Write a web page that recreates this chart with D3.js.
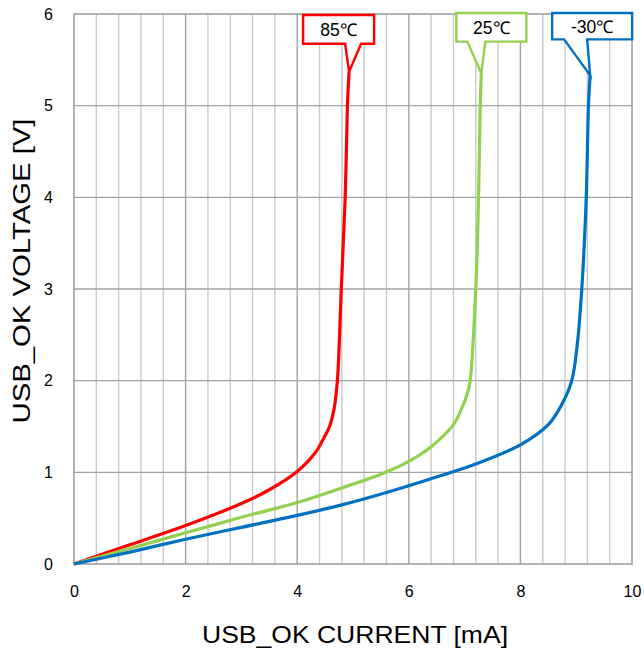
<!DOCTYPE html>
<html>
<head>
<meta charset="utf-8">
<script src="https://cdn.jsdelivr.net/npm/d3@7"></script>
<style>
  html, body { margin: 0; padding: 0; background: #fff; }
  svg { display: block; font-family: "Liberation Sans", Arial, sans-serif; }
</style>
</head>
<body>
<svg id="chart" width="644" height="653"></svg>
<script>
// USB_OK pin current vs voltage at three temperatures
const xTicks = [0, 2, 4, 6, 8, 10];
const yTicks = [0, 1, 2, 3, 4, 5, 6];

const temps = ["85℃", "25℃", "-30℃"];

const current85 = [0, 1, 2, 3, 3.5, 4.0, 4.32, 4.49, 4.58, 4.66, 4.72, 4.79, 4.86, 4.90, 4.93];
const voltage85 = [0, 0.21, 0.42, 0.66, 0.81, 1.01, 1.21, 1.39, 1.5, 1.69, 2.0, 3.0, 4.0, 5.0, 5.37];

const current25 = [0, 1, 2, 3, 4, 4.8, 5.5, 6.0, 6.4, 6.8, 6.95, 7.05, 7.1, 7.2, 7.25, 7.28, 7.3];
const voltage25 = [0, 0.17, 0.34, 0.51, 0.67, 0.83, 0.98, 1.12, 1.28, 1.52, 1.7, 1.86, 2.0, 3.0, 4.0, 5.0, 5.35];

const currentM30 = [0, 1, 2, 3, 4, 4.8, 5.6, 6.4, 7.2, 8.0, 8.5, 8.75, 8.92, 9.02, 9.1, 9.18, 9.22, 9.25];
const voltageM30 = [0, 0.13, 0.27, 0.40, 0.53, 0.645, 0.78, 0.93, 1.09, 1.30, 1.52, 1.75, 2.0, 2.4, 3.0, 4.0, 5.0, 5.33];

const colors = ["#ff0000", "#92d050", "#0070c0"];

// callout box geometry relative to the curve end point (pixels)
const callouts = [
  { left: -46, right: 25, top: 15, bottom: -28, wedgeL: -4, wedgeR: 12 },
  { left: -25, right: 45, top: 13, bottom: -32, wedgeL: -14, wedgeR: 4 },
  { left: -38, right: 42, top: 13, bottom: -36, wedgeL: -26, wedgeR: -3 }
];

const series = [
  { name: temps[0], I: current85, V: voltage85, color: colors[0], box: callouts[0] },
  { name: temps[1], I: current25, V: voltage25, color: colors[1], box: callouts[1] },
  { name: temps[2], I: currentM30, V: voltageM30, color: colors[2], box: callouts[2] }
];

const svg = d3.select("#chart");
const x = d3.scaleLinear().domain([0, 10]).range([74, 632]);
const y = d3.scaleLinear().domain([0, 6]).range([564, 14]);

// minor vertical grid every 0.4 mA
const minor = d3.range(1, 25).map(i => +(i * 0.4).toFixed(2)).filter(v => Math.abs(v / 2 - Math.round(v / 2)) > 1e-6);
svg.append("g").selectAll("line").data(minor).join("line")
  .attr("x1", d => x(d)).attr("x2", d => x(d))
  .attr("y1", y(0)).attr("y2", y(6))
  .attr("stroke", "#c9c9c9").attr("stroke-width", 1.4);

// major grid
svg.append("g").selectAll("line").data(xTicks.slice(1, -1)).join("line")
  .attr("x1", d => x(d)).attr("x2", d => x(d))
  .attr("y1", y(0)).attr("y2", y(6))
  .attr("stroke", "#a3a3a3").attr("stroke-width", 1.4);
svg.append("g").selectAll("line").data(yTicks.slice(1, -1)).join("line")
  .attr("x1", x(0)).attr("x2", x(10))
  .attr("y1", d => y(d)).attr("y2", d => y(d))
  .attr("stroke", "#a3a3a3").attr("stroke-width", 1.4);

svg.append("rect")
  .attr("x", x(0)).attr("y", y(6))
  .attr("width", x(10) - x(0)).attr("height", y(0) - y(6))
  .attr("fill", "none").attr("stroke", "#a0a0a0").attr("stroke-width", 1.6);

// tick labels via d3 axes with the axis lines hidden
const fmt = d3.format("d");
const xAxis = svg.append("g").attr("transform", `translate(0,${y(0)})`)
  .call(d3.axisBottom(x).tickValues(xTicks).tickFormat(fmt).tickSize(0).tickPadding(22));
const yAxis = svg.append("g").attr("transform", `translate(${x(0)},0)`)
  .call(d3.axisLeft(y).tickValues(yTicks).tickFormat(fmt).tickSize(0).tickPadding(21));
[xAxis, yAxis].forEach(a => {
  a.select(".domain").remove();
  a.selectAll("text").attr("font-size", 16).attr("fill", "#000")
    .attr("font-family", "'Liberation Sans', Arial, sans-serif");
});

// curves
const line = d3.line().x(d => x(d[0])).y(d => y(d[1])).curve(d3.curveCatmullRom.alpha(0.5));
series.forEach(s => {
  const pts = s.I.map((v, i) => [v, s.V[i]]);
  svg.append("path").datum(pts)
    .attr("d", line)
    .attr("fill", "none")
    .attr("stroke", s.color)
    .attr("stroke-width", 3.2)
    .attr("stroke-linejoin", "round");
});

// callouts
series.forEach(s => {
  const n = s.I.length - 1;
  const tx = x(s.I[n]), ty = y(s.V[n]);
  const b = s.box;
  const L = tx + b.left, R = tx + b.right, T = b.top, B = ty + b.bottom;
  const p = d3.path();
  p.moveTo(L, T); p.lineTo(R, T); p.lineTo(R, B);
  p.lineTo(tx + b.wedgeR, B); p.lineTo(tx, ty); p.lineTo(tx + b.wedgeL, B);
  p.lineTo(L, B); p.closePath();
  svg.append("path").attr("d", p.toString())
    .attr("fill", "#fff").attr("stroke", s.color).attr("stroke-width", 2.4)
    .attr("stroke-linejoin", "miter");
  svg.append("text")
    .attr("x", (L + R) / 2).attr("y", (T + B) / 2 + 6.5)
    .attr("text-anchor", "middle")
    .attr("font-size", 17.5)
    .text(s.name);
});

// axis titles
svg.append("text")
  .attr("x", 355).attr("y", 643)
  .attr("text-anchor", "middle")
  .attr("font-size", 24)
  .attr("textLength", 306)
  .attr("lengthAdjust", "spacingAndGlyphs")
  .text("USB_OK CURRENT [mA]");
svg.append("text")
  .attr("transform", "translate(30,271) rotate(-90)")
  .attr("text-anchor", "middle")
  .attr("font-size", 24)
  .attr("textLength", 305)
  .attr("lengthAdjust", "spacingAndGlyphs")
  .text("USB_OK VOLTAGE [V]");
</script>
</body>
</html>
